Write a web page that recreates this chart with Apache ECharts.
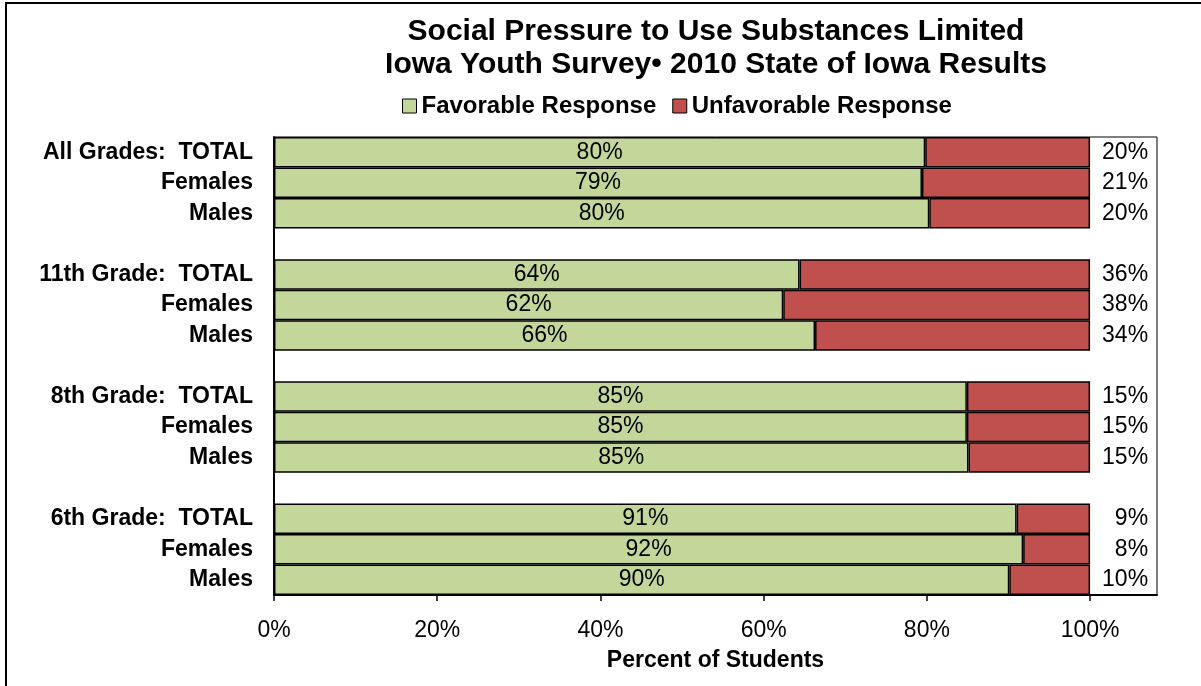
<!DOCTYPE html>
<html>
<head>
<meta charset="utf-8">
<script src="https://cdn.jsdelivr.net/npm/echarts@6/dist/echarts.min.js"></script>
<style>
  html, body { margin: 0; padding: 0; background: #fff; }
  #main { width: 1201px; height: 686px; }
</style>
</head>
<body>
<div id="main"></div>
<script>
  // rows top to bottom, blank rows separate the grade groups
  var categories = [
    "All Grades:  TOTAL", "Females", "Males", " ",
    "11th Grade:  TOTAL", "Females ", "Males ", "  ",
    "8th Grade:  TOTAL", "Females  ", "Males  ", "   ",
    "6th Grade:  TOTAL", "Females   ", "Males   "
  ];
  var favorable = [
    79.8, 79.4, 80.3, null,
    64.4, 62.4, 66.3, null,
    84.9, 84.9, 85.1, null,
    91.0, 91.8, 90.1
  ];
  var unfavorable = [
    20.2, 20.6, 19.7, null,
    35.6, 37.6, 33.7, null,
    15.1, 15.1, 14.9, null,
    9.0, 8.2, 9.9
  ];
  var tickValues = [0, 20, 40, 60, 80, 100];

  var myChart = echarts.init(document.getElementById("main"));
  var font = "Liberation Sans, Arial, sans-serif";

  myChart.setOption({
    textStyle: { fontFamily: font },
    graphic: [{
      type: "rect",
      shape: { x: 6, y: 3, width: 1200, height: 700 },
      style: { fill: "none", stroke: "#000", lineWidth: 2 },
      silent: true
    }],
    title: {
      text: "Social Pressure to Use Substances Limited\nIowa Youth Survey\u2022 2010 State of Iowa Results",
      left: 716,
      textAlign: "center",
      top: 15,
      padding: 0,
      textStyle: { fontSize: 30, fontWeight: "bold", color: "#000", lineHeight: 33, fontFamily: font }
    },
    legend: {
      top: 94,
      left: 402,
      padding: 0,
      itemWidth: 14,
      itemHeight: 14,
      itemGap: 16,
      icon: "rect",
      itemStyle: { borderColor: "#000", borderWidth: 1 },
      textStyle: { fontSize: 24, fontWeight: "bold", color: "#000", fontFamily: font, padding: [0, 0, 0, 0] },
      data: ["Favorable Response", "Unfavorable Response"]
    },
    grid: {
      left: 274,
      right: 44,
      top: 137,
      bottom: 91,
      show: true,
      borderColor: "#000",
      borderWidth: 1
    },
    xAxis: {
      type: "value",
      min: 0,
      max: 108.2,
      interval: 20,
      splitLine: { show: false },
      axisLine: { show: true, lineStyle: { color: "#000", width: 2 } },
      axisTick: { show: true, length: 6, customValues: tickValues, lineStyle: { color: "#000", width: 1.5 } },
      axisLabel: {
        customValues: tickValues,
        formatter: "{value}%",
        fontSize: 23,
        color: "#000",
        margin: 24,
        fontFamily: font
      },
      name: "Percent of Students",
      nameLocation: "middle",
      nameGap: 54,
      nameTextStyle: { fontSize: 23, fontWeight: "bold", color: "#000", fontFamily: font }
    },
    yAxis: {
      type: "category",
      inverse: true,
      data: categories,
      axisLine: { show: true, lineStyle: { color: "#000", width: 2 } },
      axisTick: { show: false },
      axisLabel: {
        fontSize: 23,
        fontWeight: "bold",
        color: "#000",
        margin: 21,
        fontFamily: font,
        formatter: function (v) { return v.trim(); }
      }
    },
    series: [
      {
        name: "Favorable Response",
        type: "bar",
        stack: "one",
        barCategoryGap: "0%",
        itemStyle: { color: "#C4D79B", borderColor: "#000", borderWidth: 1.5 },
        label: {
          show: true,
          position: "inside",
          fontSize: 23,
          color: "#000",
          fontFamily: font,
          formatter: function (p) { return Math.round(p.value) + "%"; }
        },
        data: favorable
      },
      {
        name: "Unfavorable Response",
        type: "bar",
        stack: "one",
        barCategoryGap: "0%",
        itemStyle: { color: "#C0504D", borderColor: "#000", borderWidth: 1.5 },
        label: {
          show: true,
          position: "insideRight",
          distance: 0,
          offset: [58, 0],
          fontSize: 23,
          color: "#000",
          fontFamily: font,
          formatter: function (p) { return Math.round(p.value) + "%"; }
        },
        data: unfavorable
      }
    ]
  });
</script>
</body>
</html>
